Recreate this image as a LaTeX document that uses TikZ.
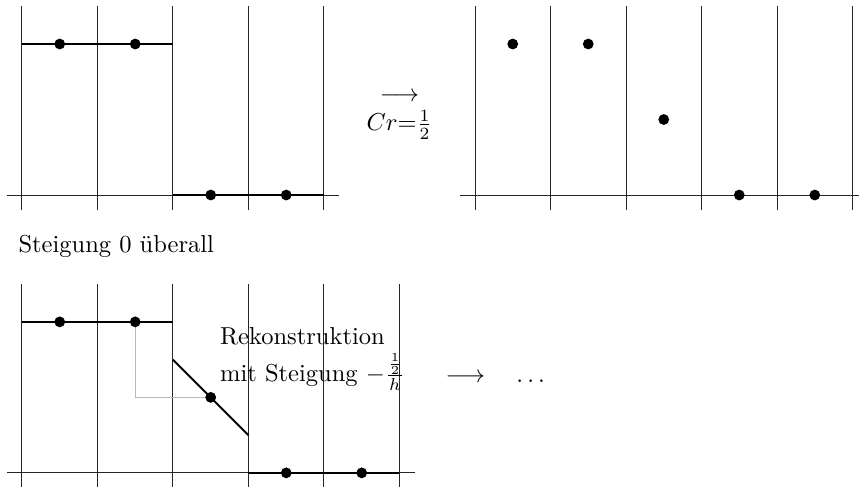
\documentclass[tikz,border=0pt]{standalone}
\usepackage{amsmath}
\usetikzlibrary{positioning}

\begin{document}
\begin{tikzpicture}[x=1.083cm, y=1.083cm,
        gridline/.style={black!85},
        fnline/.style={thick},
        helpline/.style={gray!55},
        dotmark/.style={circle, fill, inner sep=0pt, minimum size=4.4pt}]
    \useasboundingbox (-0.291,-3.854) rectangle (11.086,2.583);

    % Ausgangsdaten, stueckweise konstant
    \foreach \i in {0,...,4} {
        \draw[gridline] (\i,-0.2) -- (\i,2.5);
    }
    \draw[gridline] (-0.2,0) -- (4.2,0);
    \draw[fnline] (0,2) -- (2,2);
    \draw[fnline] (2,0) -- (4,0);
    \node[dotmark] (a1) at (0.5,2) {};
    \node[dotmark] (a2) at (1.5,2) {};
    \node[dotmark] (a3) at (2.5,0) {};
    \node[dotmark] (a4) at (3.5,0) {};

    % Pfeil mit Courant-Zahl
    \node[inner sep=0pt] (crarrow) at (5.0,1.30) {$\longrightarrow$};
    \node[inner sep=0pt] (crlabel) at (5.0,0.93) {$Cr{=}\frac{1}{2}$};

    % Werte nach einem Zeitschritt
    \foreach \i in {6,...,11} {
        \draw[gridline] (\i,-0.2) -- (\i,2.5);
    }
    \draw[gridline] (5.8,0) -- (11.3,0);
    \node[dotmark] (b1) at (6.5,2) {};
    \node[dotmark] (b2) at (7.5,2) {};
    \node[dotmark] (b3) at (8.5,1) {};
    \node[dotmark] (b4) at (9.5,0) {};
    \node[dotmark] (b5) at (10.5,0) {};

    \node[anchor=west] (flat) at (-0.16,-0.68) {Steigung 0 überall};

    % Rekonstruktion mit Steigung
    \begin{scope}[shift={(0,-3.68)}]
        \foreach \i in {0,...,5} {
            \draw[gridline] (\i,-0.2) -- (\i,2.5);
        }
        \draw[gridline] (-0.2,0) -- (5.2,0);
        \draw[helpline] (1.5,2) -- (1.5,1) -- (2.5,1);
        \draw[fnline] (0,2) -- (2,2);
        \draw[fnline] (2,1.5) -- (3,0.5);
        \draw[fnline] (3,0) -- (5,0);
        \node[dotmark] (c1) at (0.5,2) {};
        \node[dotmark] (c2) at (1.5,2) {};
        \node[dotmark] (c3) at (2.5,1) {};
        \node[dotmark] (c4) at (3.5,0) {};
        \node[dotmark] (c5) at (4.5,0) {};

        \node[anchor=base west] (rekon) at (2.51,1.695) {Rekonstruktion};
        \node[anchor=base west] (steig) at (2.51,1.205) {mit Steigung $-\frac{\frac{1}{2}}{h}$};
        \node[anchor=base] (next) at (6.27,1.20) {$\longrightarrow\quad\ldots$};
    \end{scope}
\end{tikzpicture}
\end{document}
